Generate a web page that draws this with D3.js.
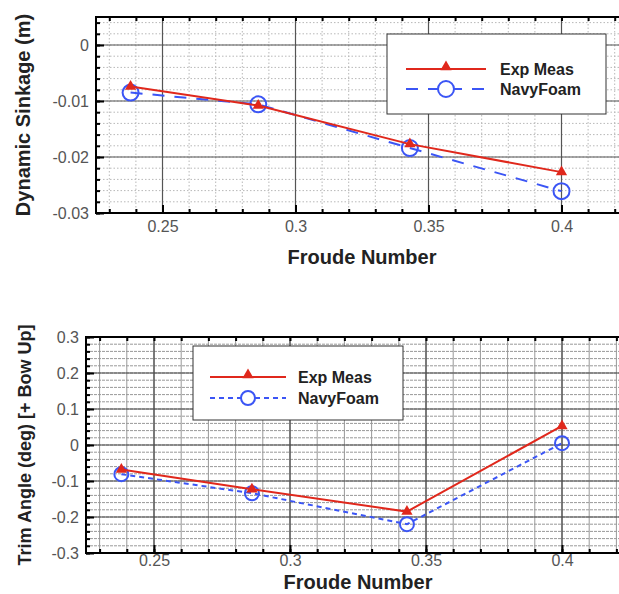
<!DOCTYPE html>
<html>
<head>
    <meta charset="utf-8">
    <title>Sinkage and trim vs Froude number</title>
    <script src="https://cdn.jsdelivr.net/npm/d3@7"></script>
    <style>
        body { margin: 0; background: #fff; }
        svg { display: block; font-family: "Liberation Sans", Arial, sans-serif; }
    </style>
</head>
<body>
<script>
    // data
    var froude = [0.238, 0.286, 0.343, 0.4];
    var sinkExp = [-0.0074, -0.0108, -0.0177, -0.0227];
    var sinkNavy = [-0.0085, -0.0106, -0.0184, -0.0261];
    var trimExp = [-0.068, -0.123, -0.185, 0.053];
    var trimNavy = [-0.081, -0.134, -0.220, 0.005];
    var xTicks = [0.25, 0.3, 0.35, 0.4];
    var sinkTicks = [0, -0.01, -0.02, -0.03];
    var trimTicks = [-0.3, -0.2, -0.1, 0, 0.1, 0.2, 0.3];
    var seriesNames = ['Exp Meas', 'NavyFoam'];

    var width = 619, height = 594;
    var red = '#e0281c', blue = '#3b55f5';

    var svg = d3.select('body').append('svg').attr('width', width).attr('height', height);

    function fmt(d) {
        return d === 0 ? '0' : String(+d.toFixed(3));
    }

    function drawPanel(p) {
        var x = d3.scaleLinear().domain([0.225, 0.425]).range([p.left, p.right]);
        var y = d3.scaleLinear().domain(p.yDomain).range([p.bottom, p.top]);
        var g = svg.append('g');

        // minor grid
        var xMinor = d3.range(0.23, 0.4251, 0.01).map(function (v) { return +v.toFixed(3); });
        var yMinor = d3.range(p.yDomain[0], p.yDomain[1] + 1e-9, p.yMinorStep).map(function (v) { return +v.toFixed(4); });
        g.selectAll('.gx').data(xMinor).enter().append('line')
                .attr('x1', function (d) { return x(d); }).attr('x2', function (d) { return x(d); })
                .attr('y1', p.top).attr('y2', p.bottom)
                .attr('stroke', p.minorColor).attr('stroke-width', 1)
                .attr('stroke-dasharray', p.minorDash);
        g.selectAll('.gy').data(yMinor).enter().append('line')
                .attr('y1', function (d) { return y(d); }).attr('y2', function (d) { return y(d); })
                .attr('x1', p.left).attr('x2', p.right)
                .attr('stroke', p.minorColor).attr('stroke-width', 1)
                .attr('stroke-dasharray', p.minorDashY);

        // major grid
        g.selectAll('.mx').data(xTicks).enter().append('line')
                .attr('x1', function (d) { return x(d); }).attr('x2', function (d) { return x(d); })
                .attr('y1', p.top).attr('y2', p.bottom)
                .attr('stroke', p.majorColor).attr('stroke-width', 1.2);
        g.selectAll('.my').data(p.yTicks).enter().append('line')
                .attr('y1', function (d) { return y(d); }).attr('y2', function (d) { return y(d); })
                .attr('x1', p.left).attr('x2', p.right)
                .attr('stroke', p.majorColor).attr('stroke-width', 1.2);

        // inward ticks, minor then major
        var ax = g.append('g').attr('transform', 'translate(0,' + p.bottom + ')')
                .call(d3.axisBottom(x).tickValues(xMinor).tickSize(-4).tickFormat(''));
        ax.append('g').call(d3.axisBottom(x).tickValues(xTicks).tickSize(-8).tickPadding(p.xPad).tickFormat(fmt));
        var at = g.append('g').attr('transform', 'translate(0,' + p.top + ')')
                .call(d3.axisTop(x).tickValues(xMinor).tickSize(-4).tickFormat(''));
        var ay = g.append('g').attr('transform', 'translate(' + p.left + ',0)')
                .call(d3.axisLeft(y).tickValues(yMinor).tickSize(-4).tickFormat(''));
        ay.append('g').call(d3.axisLeft(y).tickValues(p.yTicks).tickSize(-8).tickPadding(7).tickFormat(fmt));
        g.selectAll('.domain').remove();
        g.selectAll('.tick line').attr('stroke', '#000').attr('stroke-width', 2);
        g.selectAll('.tick text').attr('font-size', 16).attr('fill', '#555')
                .attr('font-family', '"Liberation Sans", Arial, sans-serif');

        // frame
        g.append('rect').attr('x', p.left).attr('y', p.top)
                .attr('width', p.right - p.left).attr('height', p.bottom - p.top)
                .attr('fill', 'none').attr('stroke', '#000').attr('stroke-width', 2);

        // series
        var line = d3.line()
                .x(function (d) { return x(d[0]); })
                .y(function (d) { return y(d[1]); });
        var navy = d3.zip(froude, p.navy);
        var exp = d3.zip(froude, p.exp);
        g.append('path').datum(navy).attr('d', line).attr('fill', 'none')
                .attr('stroke', blue).attr('stroke-width', 2).attr('stroke-dasharray', p.dash);
        g.selectAll('.cn').data(navy).enter().append('circle')
                .attr('cx', function (d) { return x(d[0]); }).attr('cy', function (d) { return y(d[1]); })
                .attr('r', p.r).attr('fill', 'none').attr('stroke', blue).attr('stroke-width', 2);
        g.append('path').datum(exp).attr('d', line).attr('fill', 'none')
                .attr('stroke', red).attr('stroke-width', 2);
        var tri = d3.symbol().type(d3.symbolTriangle).size(55);
        g.selectAll('.te').data(exp).enter().append('path').attr('d', tri)
                .attr('transform', function (d) { return 'translate(' + x(d[0]) + ',' + y(d[1]) + ')'; })
                .attr('fill', red);

        // legend
        var L = p.legend;
        g.append('rect').attr('x', L.x).attr('y', L.y).attr('width', L.w).attr('height', L.h)
                .attr('fill', '#fff').attr('stroke', '#333').attr('stroke-width', 1);
        g.append('line').attr('x1', L.lx1).attr('x2', L.lx2).attr('y1', L.row1).attr('y2', L.row1)
                .attr('stroke', red).attr('stroke-width', 2);
        g.append('path').attr('d', tri)
                .attr('transform', 'translate(' + ((L.lx1 + L.lx2) / 2) + ',' + (L.row1 - 2) + ')')
                .attr('fill', red);
        g.append('line').attr('x1', L.lx1).attr('x2', L.lx2).attr('y1', L.row2).attr('y2', L.row2)
                .attr('stroke', blue).attr('stroke-width', 2).attr('stroke-dasharray', p.dash);
        g.append('circle').attr('cx', (L.lx1 + L.lx2) / 2).attr('cy', L.row2).attr('r', p.r)
                .attr('fill', '#fff').attr('stroke', blue).attr('stroke-width', 2);
        g.selectAll('.lt').data(seriesNames).enter().append('text')
                .attr('x', L.tx)
                .attr('y', function (d, i) { return (i === 0 ? L.row1 : L.row2) + 6; })
                .attr('font-size', 16).attr('font-weight', 'bold').attr('fill', '#222')
                .text(function (d) { return d; });

        // axis titles
        g.append('text').attr('x', (p.left + p.right) / 2).attr('y', p.xTitleY)
                .attr('text-anchor', 'middle').attr('font-size', 20).attr('font-weight', 'bold')
                .attr('fill', '#222').text('Froude Number');
        g.append('text')
                .attr('transform', 'translate(' + p.yTitleX + ',' + ((p.top + p.bottom) / 2) + ') rotate(-90)')
                .attr('text-anchor', 'middle').attr('dy', '0.35em')
                .attr('font-size', p.yTitleSize).attr('font-weight', 'bold')
                .attr('fill', '#222').text(p.yTitle);
    }

    drawPanel({
        left: 96, right: 628, top: 17, bottom: 213,
        yDomain: [-0.03, 0.005], yTicks: sinkTicks, yMinorStep: 0.002,
        minorColor: '#b8b8b8', minorDash: '1.5,2', minorDashY: '1.5,2', majorColor: '#555',
        xPad: 8, exp: sinkExp, navy: sinkNavy, dash: '12,10', r: 8,
        legend: {x: 387, y: 34, w: 219, h: 80, lx1: 406, lx2: 486, row1: 69, row2: 89, tx: 500},
        xTitleY: 264, yTitleX: 23, yTitle: 'Dynamic Sinkage (m)', yTitleSize: 20
    });

    drawPanel({
        left: 86, right: 630, top: 337, bottom: 553,
        yDomain: [-0.3, 0.3], yTicks: trimTicks, yMinorStep: 0.02,
        minorColor: '#999', minorDash: null, minorDashY: '3,1', majorColor: '#444',
        xPad: 2, exp: trimExp, navy: trimNavy, dash: '5,4', r: 7,
        legend: {x: 193, y: 346, w: 210, h: 74, lx1: 210, lx2: 286, row1: 377, row2: 398, tx: 298},
        xTitleY: 589, yTitleX: 25, yTitle: 'Trim Angle (deg) [+ Bow Up]', yTitleSize: 18
    });
</script>
</body>
</html>
